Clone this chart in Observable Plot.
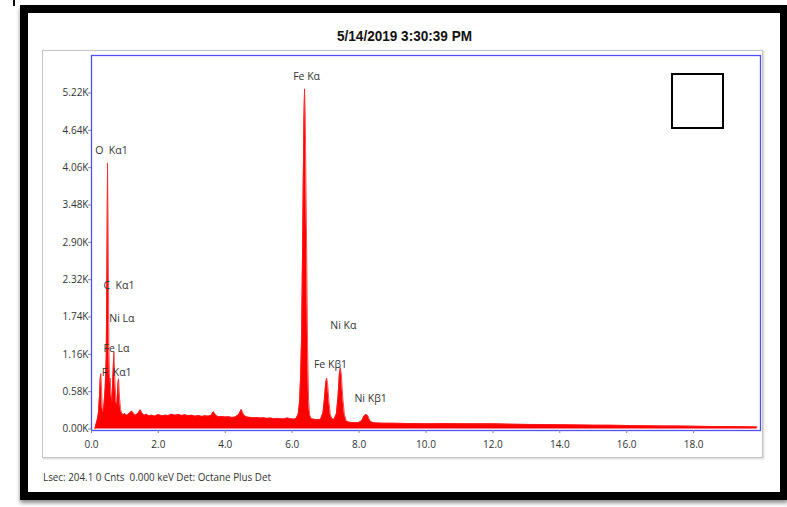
<!DOCTYPE html>
<html>
<head>
<meta charset="utf-8">
<script src="https://cdn.jsdelivr.net/npm/d3@7"></script>
<script src="https://cdn.jsdelivr.net/npm/@observablehq/plot@0.6"></script>
<style>
  html, body { margin: 0; padding: 0; background: #fff; }
  #wrap { position: relative; width: 787px; height: 507px; overflow: hidden; background: #fff; }
  #frame { position: absolute; left: 20px; top: 5px; width: 768px; height: 495px; box-sizing: border-box;
           border: 8px solid #000; box-shadow: 0 3px 4px rgba(0,0,0,0.45); }
  #panel { position: absolute; left: 42px; top: 50px; width: 721px; height: 408px; box-sizing: border-box;
           border: 1px solid #c4c4c4; box-shadow: 1px 1px 2px rgba(0,0,0,0.18); background: #fff; }
  #box { position: absolute; left: 671px; top: 73px; width: 53px; height: 56px; box-sizing: border-box;
         border: 2px solid #000; background: #fff; }
  #tick { position: absolute; left: 13px; top: 0; width: 2px; height: 6px; background: #000; }
  #chart, #overlay { position: absolute; left: 0; top: 0; }
  svg text { white-space: pre; }
</style>
</head>
<body>
<div id="wrap">
  <div id="tick"></div>
  <div id="frame"></div>
  <div id="panel"></div>
  <div id="chart"></div>
  <div id="box"></div>
  <svg id="overlay" width="787" height="507">
    <text id="title" x="337" y="41" font-family="'Liberation Sans Narrow','Arial Narrow','Liberation Sans',sans-serif"
          font-weight="bold" font-size="15.5" fill="#111" textLength="135" lengthAdjust="spacingAndGlyphs">5/14/2019 3:30:39 PM</text>
    <text id="footer" x="43" y="481" font-family="'Open Sans','Noto Sans',sans-serif"
          font-size="10.5" fill="#333" textLength="228" lengthAdjust="spacingAndGlyphs">Lsec: 204.1 0 Cnts  0.000 keV Det: Octane Plus Det</text>
  </svg>
</div>
<script>
// Spectrum: energy (keV) and counts
const energy = [
  0.10, 0.14, 0.18, 0.21, 0.24, 0.26, 0.28, 0.30, 0.32, 0.35, 0.38, 0.41, 0.44, 0.46, 0.48, 0.50,
  0.52, 0.54, 0.56, 0.58, 0.61, 0.64, 0.67, 0.70, 0.73, 0.76, 0.79, 0.81, 0.84, 0.87, 0.90, 0.95,
  1.00, 1.05, 1.10, 1.15, 1.20, 1.25, 1.30, 1.35, 1.40, 1.46, 1.52, 1.58, 1.65, 1.70, 1.80, 1.90,
  2.00, 2.10, 2.20, 2.30, 2.40, 2.50, 2.60, 2.70, 2.80, 2.90, 3.00, 3.10, 3.20, 3.30, 3.40, 3.50,
  3.58, 3.65, 3.72, 3.80, 3.90, 4.00, 4.10, 4.20, 4.30, 4.40, 4.48, 4.56, 4.65, 4.75, 4.85, 4.95,
  5.05, 5.15, 5.25, 5.35, 5.45, 5.55, 5.65, 5.75, 5.85, 5.95, 6.05, 6.12, 6.18, 6.22, 6.25, 6.28,
  6.30, 6.33, 6.35, 6.37, 6.39, 6.41, 6.44, 6.46, 6.49, 6.52, 6.57, 6.65, 6.75, 6.85, 6.92, 6.96,
  7.00, 7.03, 7.06, 7.10, 7.14, 7.19, 7.25, 7.32, 7.37, 7.41, 7.44, 7.47, 7.51, 7.56, 7.62, 7.70,
  7.80, 7.90, 8.00, 8.08, 8.14, 8.20, 8.26, 8.32, 8.40, 8.50, 8.70, 9.00, 9.50, 10.0, 10.5, 11.0,
  11.5, 12.0, 12.5, 13.0, 13.5, 14.0, 14.5, 15.0, 15.5, 16.0, 16.5, 17.0, 17.5, 18.0, 18.5, 19.0,
  19.5, 19.9
];
const counts = [
  0, 80, 160, 260, 520, 780, 860, 620, 330, 260, 420, 650, 1100, 2400, 4130, 2900,
  1300, 720, 790, 560, 430, 820, 1200, 760, 420, 380, 700, 780, 470, 300, 250, 220,
  240, 210, 230, 250, 280, 250, 210, 225, 250, 300, 240, 215, 230, 205, 215, 200,
  225, 205, 215, 210, 230, 215, 225, 210, 220, 205, 215, 200, 210, 195, 205, 200,
  215, 270, 210, 190, 195, 185, 190, 180, 185, 220, 305, 210, 185, 180, 175, 180,
  170, 175, 165, 170, 160, 165, 160, 155, 170, 160, 150, 165, 230, 420, 800, 1400,
  2300, 3800, 4800, 5285, 4900, 3900, 2400, 1300, 450, 220, 160, 150, 145, 150, 250, 450,
  700, 790, 700, 420, 220, 160, 150, 230, 500, 850, 950, 850, 500, 230, 120, 105,
  100, 98, 100, 130, 190, 225, 210, 130, 100, 95, 90, 88, 85, 80, 84, 82,
  80, 80, 76, 72, 70, 68, 64, 60, 58, 55, 52, 48, 46, 42, 40, 38,
  36, 33
];

// Peak labels
const peakNames  = ["Fe Kα", "O  Kα1", "C  Kα1", "Ni Lα", "Fe Lα", "F  Kα1", "Ni Kα", "Fe Kβ1", "Ni Kβ1"];
const peakEnergy = [6.43, 0.11, 0.36, 0.53, 0.36, 0.31, 7.14, 6.65, 7.86];
const peakCounts = [5468, 4327, 2229, 1712, 1246, 882, 1608, 1002, 469];
const peakAnchor = ["middle", "start", "start", "start", "start", "start", "start", "start", "start"];

// Axis ticks
const yTicks = [0, 580, 1160, 1740, 2320, 2900, 3480, 4060, 4640, 5220];
const xTicks = [0, 2, 4, 6, 8, 10, 12, 14, 16, 18];

const spectrum = energy.map((e, i) => ({e, c: counts[i]}));
const labels = peakNames.map((n, i) => ({n, e: peakEnergy[i], c: peakCounts[i], a: peakAnchor[i]}));

const font = "'Open Sans','Noto Sans',sans-serif";

const chart = Plot.plot({
  width: 787,
  height: 507,
  marginLeft: 91,
  marginRight: 27,
  marginTop: 55,
  marginBottom: 77,
  x: {domain: [0, 20]},
  y: {domain: [-23, 5802]},
  style: {background: "transparent", fontFamily: font, fontSize: "10px", color: "#333", overflow: "visible"},
  marks: [
    Plot.areaY(spectrum, {x: "e", y: "c", fill: "#ff0000", curve: "linear"}),
    Plot.lineY(spectrum, {x: "e", y: "c", stroke: "#ff2020", strokeWidth: 0.8, curve: "linear"}),
    Plot.frame({stroke: "#4f4fff", strokeWidth: 1.3}),
    Plot.axisX({ticks: xTicks, tickFormat: d => d.toFixed(1), tickSize: 3, tickPadding: 7, label: null, stroke: "#888"}),
    Plot.axisY({ticks: yTicks, tickFormat: d => (d / 1000).toFixed(2) + "K", tickSize: 3, tickPadding: 0, label: null, stroke: "#888"}),
    Plot.text(labels.filter(d => d.a === "middle"), {x: "e", y: "c", text: "n", textAnchor: "middle", lineAnchor: "middle", fill: "#333", fontSize: 10.5}),
    Plot.text(labels.filter(d => d.a === "start"), {x: "e", y: "c", text: "n", textAnchor: "start", lineAnchor: "middle", fill: "#333", fontSize: 10.5})
  ]
});
document.getElementById("chart").appendChild(chart);
</script>
</body>
</html>
